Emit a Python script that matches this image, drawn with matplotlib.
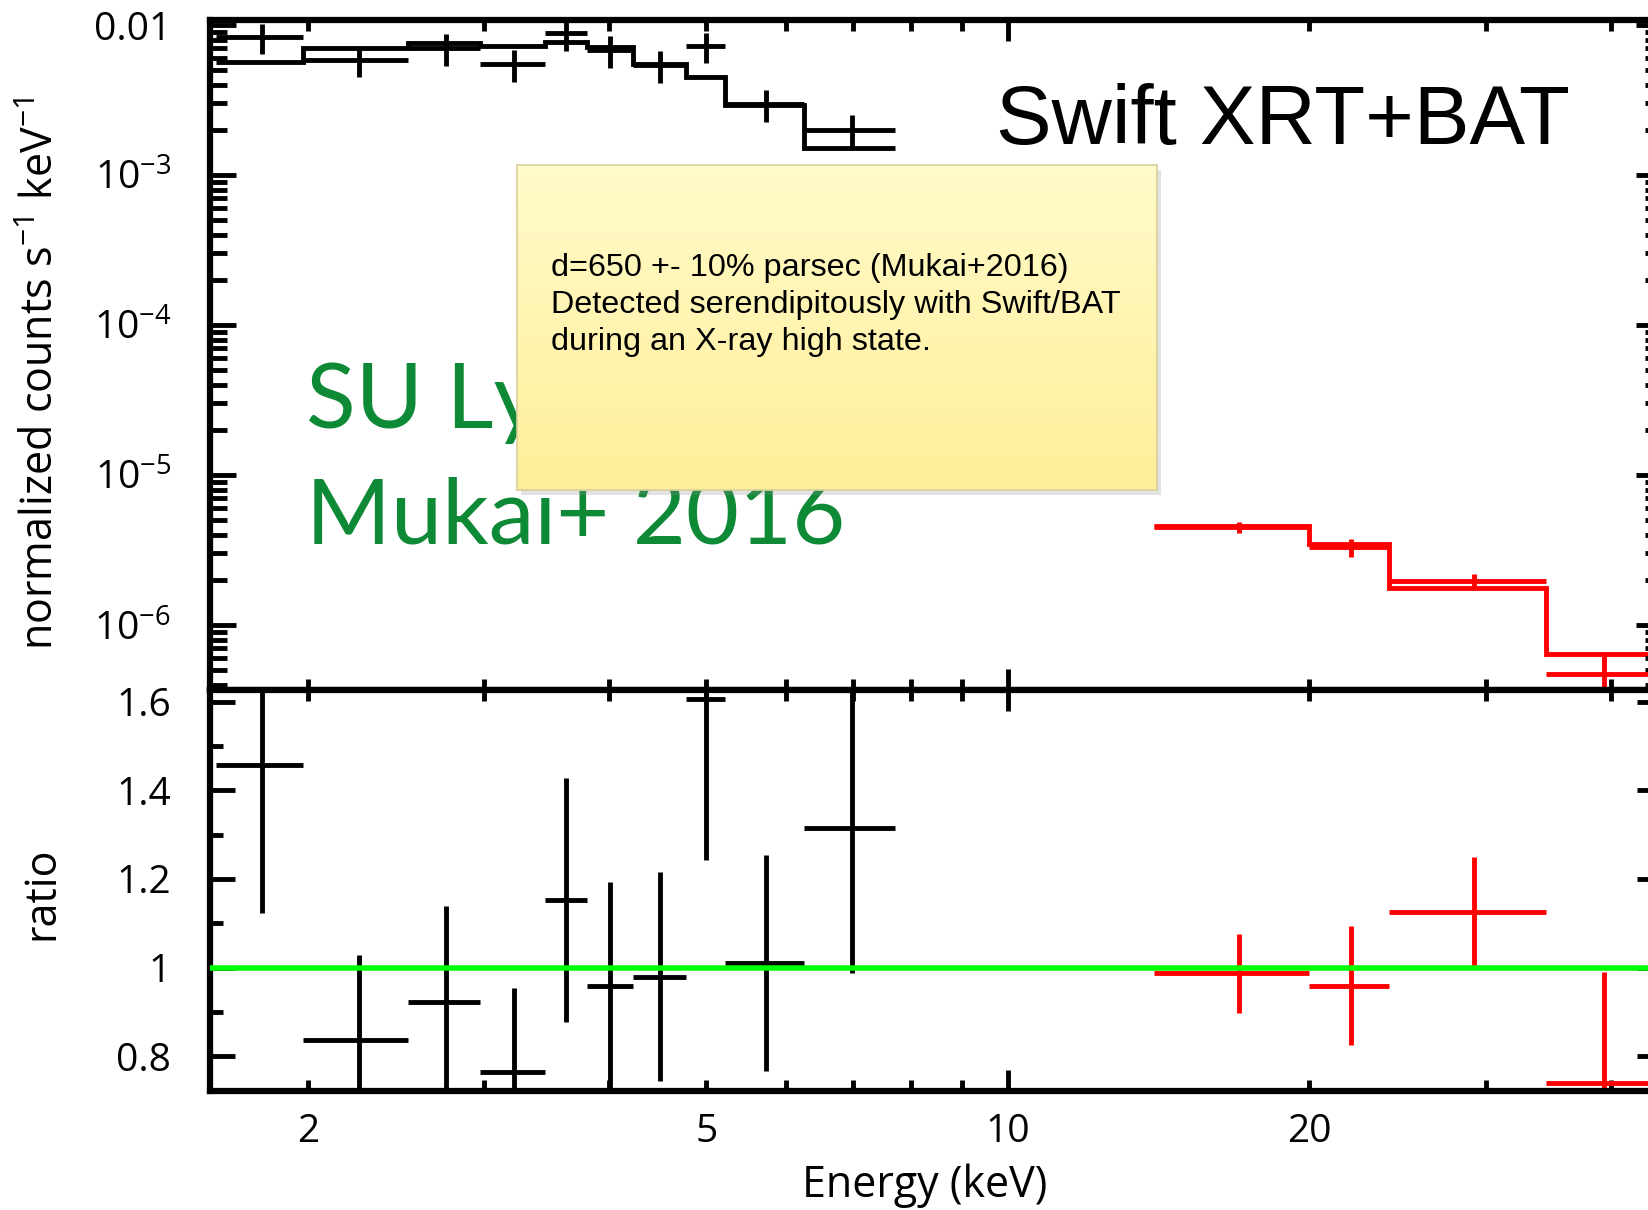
import numpy as np
import matplotlib
matplotlib.use('Agg')
import matplotlib.pyplot as plt
from matplotlib.ticker import FixedLocator, LogLocator, MultipleLocator, FuncFormatter, NullFormatter
from matplotlib.patches import Rectangle

# Swift/XRT (black): bin edges, bin centres, model, data, errors, ratio
xrt_edges = [1.62, 1.98, 2.52, 2.97, 3.45, 3.80, 4.22, 4.77, 5.22, 6.26, 7.72]
xrt_center = [1.80, 2.25, 2.745, 3.21, 3.62, 4.01, 4.49, 4.99, 5.74, 6.99]
xrt_model = [5.7e-3, 7.0e-3, 7.6e-3, 7.2e-3, 7.7e-3, 7.1e-3, 5.5e-3, 4.5e-3, 2.93e-3, 1.52e-3]
xrt_data = [8.3e-3, 5.86e-3, 7.0e-3, 5.5e-3, 8.88e-3, 6.8e-3, 5.39e-3, 7.22e-3, 2.96e-3, 2.0e-3]
xrt_err = [1.9e-3, 1.34e-3, 1.65e-3, 1.36e-3, 2.12e-3, 1.67e-3, 1.3e-3, 1.63e-3, 0.71e-3, 0.5e-3]
xrt_ratio = [1.457, 0.837, 0.922, 0.765, 1.153, 0.959, 0.98, 1.605, 1.01, 1.314]
xrt_ratio_err = [0.333, 0.192, 0.217, 0.189, 0.275, 0.235, 0.236, 0.362, 0.243, 0.327]

# Swift/BAT (red)
bat_edges = [14.0, 20.0, 24.0, 34.5, 50.0]
bat_center = [17.0, 22.0, 29.2, 39.4]
bat_model = [4.55e-6, 3.45e-6, 1.76e-6, 6.4e-7]
bat_data = [4.49e-6, 3.31e-6, 1.98e-6, 4.73e-7]
bat_err = [0.41e-6, 0.46e-6, 0.22e-6, 1.6e-7]
bat_ratio = [0.987, 0.959, 1.126, 0.739]
bat_ratio_err = [0.09, 0.134, 0.124, 0.252]

plt.rcParams['font.family'] = ['Open Sans', 'DejaVu Sans']
plt.rcParams['mathtext.fontset'] = 'custom'
plt.rcParams['mathtext.rm'] = 'Open Sans'
plt.rcParams['mathtext.it'] = 'Open Sans:italic'
plt.rcParams['mathtext.bf'] = 'Open Sans:bold'

W, H = 1648, 1210
fig = plt.figure(figsize=(W / 100, H / 100), dpi=100)

# axes frames in pixels (right spine lies just off the picture)
left, right = 210, 1662
top, mid, bottom = 20, 690, 1091
ax1 = fig.add_axes([left / W, 1 - mid / H, (right - left) / W, (mid - top) / H])
ax2 = fig.add_axes([left / W, 1 - bottom / H, (right - left) / W, (bottom - mid) / H])

lw = 3.5


def xerr(center, edges):
    c = np.array(center)
    e = np.array(edges)
    return [c - e[:-1], e[1:] - c]


# upper panel: spectrum
ax1.stairs(xrt_model, xrt_edges, color='black', lw=lw, baseline=None)
ax1.errorbar(xrt_center, xrt_data, xerr=xerr(xrt_center, xrt_edges), yerr=xrt_err,
             fmt='none', ecolor='black', elinewidth=lw, capsize=0)
ax1.stairs(bat_model, bat_edges, color='red', lw=lw, baseline=None)
ax1.errorbar(bat_center, bat_data, xerr=xerr(bat_center, bat_edges), yerr=bat_err,
             fmt='none', ecolor='red', elinewidth=lw, capsize=0)

# lower panel: ratio
ax2.errorbar(xrt_center, xrt_ratio, xerr=xerr(xrt_center, xrt_edges), yerr=xrt_ratio_err,
             fmt='none', ecolor='black', elinewidth=lw, capsize=0)
ax2.errorbar(bat_center, bat_ratio, xerr=xerr(bat_center, bat_edges), yerr=bat_ratio_err,
             fmt='none', ecolor='red', elinewidth=lw, capsize=0)
ax2.axhline(1.0, color='#00ff00', lw=4, zorder=5)

for ax in (ax1, ax2):
    ax.set_xscale('log')
    ax.set_xlim(1.597, 45)
    ax.xaxis.set_major_locator(FixedLocator([1, 10, 100]))
    ax.xaxis.set_minor_locator(FixedLocator([2, 3, 4, 5, 6, 7, 8, 9, 20, 30, 40]))
    for s in ax.spines.values():
        s.set_linewidth(4.5)
    ax.tick_params(which='both', direction='in', top=True, right=True, width=3.5,
                   labelsize=28)
    ax.tick_params(axis='x', which='major', length=15, pad=16)
    ax.tick_params(axis='x', which='minor', length=8, pad=16)

ax1.set_yscale('log')
ax1.set_ylim(3.69e-7, 0.0108)
ax1.yaxis.set_major_locator(LogLocator(base=10, numticks=20))
ax1.yaxis.set_minor_locator(LogLocator(base=10, subs=np.arange(2, 10), numticks=20))
ax1.yaxis.set_major_formatter(FuncFormatter(
    lambda v, p: '0.01' if v > 0.005 else '$10^{%d}$' % int(round(np.log10(v)))))
ax1.yaxis.set_minor_formatter(NullFormatter())
ax1.xaxis.set_major_formatter(NullFormatter())
ax1.xaxis.set_minor_formatter(NullFormatter())
ax1.tick_params(axis='y', which='major', length=19, pad=28)
ax1.tick_params(axis='y', which='minor', length=12)

ax2.set_ylim(0.722, 1.626)
ax2.yaxis.set_major_locator(MultipleLocator(0.2))
ax2.yaxis.set_minor_locator(MultipleLocator(0.1))
ax2.yaxis.set_major_formatter(FuncFormatter(lambda v, p: '1' if abs(v - 1) < 1e-6 else '%.1f' % v))
ax2.tick_params(axis='y', which='major', length=18, pad=28)
ax2.tick_params(axis='y', which='minor', length=9)
ax2.xaxis.set_major_formatter(FuncFormatter(lambda v, p: '%g' % v))
ax2.xaxis.set_minor_formatter(FuncFormatter(lambda v, p: '%g' % v if round(v) in (2, 5, 20) else ''))

# axis titles
fig.text(42 / W, 1 - 373 / H, 'normalized counts s$^{-1}$ keV$^{-1}$', rotation=90,
         ha='center', va='center', fontsize=31)
fig.text(42 / W, 1 - 893 / H, 'ratio', rotation=90, ha='center', va='center', fontsize=31)
fig.text(925 / W, 1 - 1186 / H, 'Energy (keV)', ha='center', va='center', fontsize=31)

# annotations
fig.text(996 / W, 1 - 144 / H, 'Swift XRT+BAT', fontsize=60, family='Liberation Sans',
         va='baseline', zorder=3)
green = '#0e8a36'
fig.text(306 / W, 1 - 428 / H, 'SU Lyr', fontsize=66, family='Lato', color=green,
         va='baseline', zorder=3)
fig.text(306 / W, 1 - 544 / H, 'Mukai+ 2016', fontsize=66, family='Lato', color=green,
         va='baseline', zorder=3)

# yellow note on top
bx0, by0, bx1, by1 = 517, 165, 1157, 490
fig.add_artist(Rectangle(((bx0 + 4) / W, 1 - (by1 + 5) / H), (bx1 - bx0) / W, (by1 - by0) / H,
                         transform=fig.transFigure, facecolor='0.55', alpha=0.25,
                         edgecolor='none', zorder=4))
bax = fig.add_axes([bx0 / W, 1 - by1 / H, (bx1 - bx0) / W, (by1 - by0) / H], zorder=5)
t = np.linspace(0, 1, 256)[:, None, None]
c_top = np.array([1.0, 0.982, 0.79])
c_bot = np.array([1.0, 0.935, 0.60])
bax.imshow(c_top * (1 - t) + c_bot * t, aspect='auto', extent=[0, 1, 0, 1])
bax.set_xticks([])
bax.set_yticks([])
for s in bax.spines.values():
    s.set_color('#d8cf9c')
    s.set_linewidth(1.2)

note = ['d=650 +- 10% parsec (Mukai+2016)',
        'Detected serendipitously with Swift/BAT',
        'during an X-ray high state.']
for i, line in enumerate(note):
    fig.text(551 / W, 1 - (276 + 37 * i) / H, line, fontsize=23.3,
             family='Liberation Sans', va='baseline', zorder=6)

plt.savefig('out.png', dpi=100)
